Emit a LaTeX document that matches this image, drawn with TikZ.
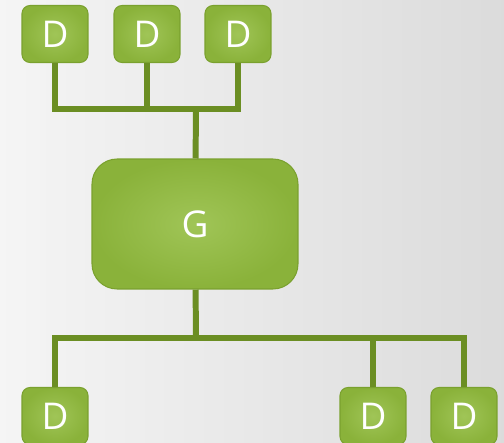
\documentclass[tikz,border=0pt]{standalone}
\usepackage{fontspec}
\setmainfont{Open Sans}
\usetikzlibrary{positioning,calc}

\definecolor{leafgreen}{HTML}{8AB23A}
\definecolor{leaflight}{HTML}{A0C557}
\definecolor{leafedge}{HTML}{7AA12E}
\definecolor{wire}{HTML}{6B8E23}

\begin{document}
\begin{tikzpicture}[
x=0.02cm,y=-0.02cm,
box/.style={draw=leafedge,line width=0.6pt,rounded corners=0.16cm,inner color=leaflight,outer color=leafgreen,
  text=white,font=\fontsize{21}{24}\selectfont,minimum width=1.32cm,minimum height=1.14cm},
bigbox/.style={box,rounded corners=0.5cm,minimum width=4.12cm,minimum height=2.6cm},
wire/.style={draw=wire,line width=3.4pt}]
\shade[left color=black!4,right color=black!14] (0,0) rectangle (504,443);
\useasboundingbox (0,0) rectangle (504,443);
% generator and its data nodes
\node[bigbox] (g) at (195,224) {G};
\node[box] (t1) at (55,34) {D};
\node[box] (t2) at (147,34) {D};
\node[box] (t3) at (238,34) {D};
\node[box] (b1) at (55,416) {D};
\node[box] (b2) at (373,416) {D};
\node[box] (b3) at (464,416) {D};
% buses
\coordinate (tj) at (196,109);
\coordinate (bj) at (196,338);
\draw[wire] (t1) |- (tj) -- (g);
\draw[wire] (t3) |- (tj);
\draw[wire] (t2) -- (t2 |- tj);
\draw[wire] (g) -- (bj);
\draw[wire] (bj) -| (b1);
\draw[wire] (bj) -| (b3);
\draw[wire] (b2 |- bj) -- (b2);
\end{tikzpicture}
\end{document}
